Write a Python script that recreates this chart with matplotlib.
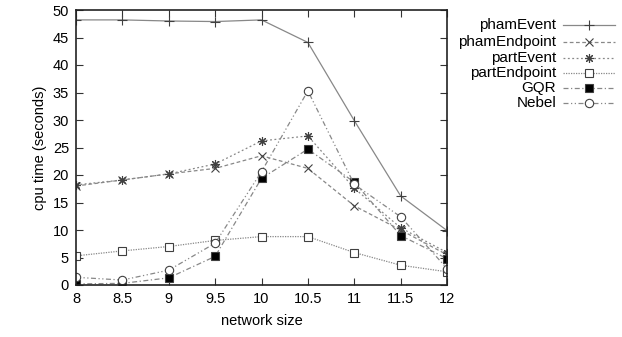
import matplotlib
matplotlib.use("Agg")
import matplotlib.pyplot as plt
from matplotlib.lines import Line2D

plt.rcParams['font.family'] = ['Liberation Sans', 'DejaVu Sans']

network_size = [8, 8.5, 9, 9.5, 10, 10.5, 11, 11.5, 12]
phamEvent = [48.2, 48.2, 48.0, 47.9, 48.2, 44.1, 29.9, 16.2, 9.9]
phamEndpoint = [18.0, 19.1, 20.2, 21.2, 23.5, 21.2, 14.4, 10.0, 5.5]
partEvent = [18.2, 19.1, 20.2, 22.0, 26.2, 27.1, 17.6, 10.4, 5.9]
partEndpoint = [5.3, 6.2, 7.0, 8.1, 8.8, 8.8, 5.9, 3.6, 2.4]
GQR = [0.2, 0.3, 1.3, 5.2, 19.4, 24.7, 18.7, 9.0, 4.8]
Nebel = [1.4, 0.9, 2.7, 7.6, 20.6, 35.3, 18.3, 12.4, 3.0]

series = [
    ("phamEvent", phamEvent, dict(ls='-', marker='+', ms=7, mfc='none')),
    ("phamEndpoint", phamEndpoint, dict(ls=(0, (3, 2)), marker='x', ms=5.5, mfc='none')),
    ("partEvent", partEvent, dict(ls=(0, (1.5, 2)), marker=(8, 2, 0), ms=6.5, mfc='none')),
    ("partEndpoint", partEndpoint, dict(ls=(0, (1, 1)), marker='s', ms=5.5, mfc='white')),
    ("GQR", GQR, dict(ls=(0, (4, 2, 1, 2)), marker='s', ms=5.5, mfc='black')),
    ("Nebel", Nebel, dict(ls=(0, (4, 2, 1, 2, 1, 2)), marker='o', ms=6, mfc='white')),
]

W, H = 622, 337
fig = plt.figure(figsize=(W / 100, H / 100), dpi=100)
ax = fig.add_axes([76 / W, 1 - 285 / H, (447 - 76) / W, (285 - 10) / H])

for name, vals, st in series:
    ax.plot(network_size, vals, color='#888888', lw=0.9, mec='#404040', mew=0.8, **st)

ax.set_xlim(8, 12)
ax.set_ylim(0, 50)
ax.set_xticks(network_size)
ax.set_xticklabels(['8', '8.5', '9', '9.5', '10', '10.5', '11', '11.5', '12'])
ax.set_yticks(range(0, 51, 5))
ax.tick_params(direction='in', top=True, right=True, length=5, width=0.8,
               labelsize=10.5, pad=5, color='#333333')
for s in ax.spines.values():
    s.set_linewidth(1.2)
    s.set_color('#222222')
ax.set_xlabel('network size', fontsize=10.5, labelpad=6)
ax.set_ylabel('cpu time (seconds)', fontsize=10.5, labelpad=4)

# gnuplot-style key
ys = [25, 42, 58, 73, 88, 103]
for (name, vals, st), yp in zip(series, ys):
    yf = 1 - yp / H
    fig.text(556 / W, yf, name, ha='right', va='center', fontsize=11)
    ln = Line2D([563 / W, 589 / W, 615 / W], [yf, yf, yf], transform=fig.transFigure,
                color='#888888', lw=0.9, mec='#404040', mew=0.8, markevery=[1], **st)
    fig.add_artist(ln)

fig.savefig('out.png', dpi=100)
